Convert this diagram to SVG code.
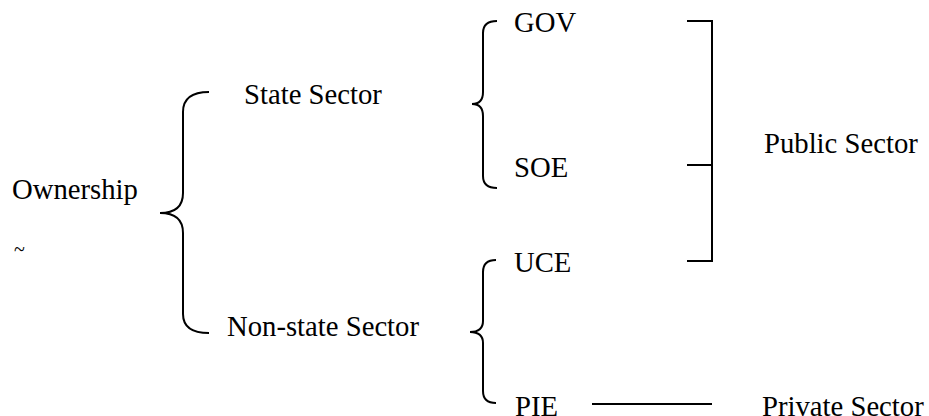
<svg xmlns="http://www.w3.org/2000/svg" width="929" height="416" viewBox="0 0 929 416">
<style>
  text { font-family: "Liberation Serif", "Times New Roman", serif; font-size: 28.7px; fill: #000; }
  .ln { fill: none; stroke: #000; stroke-width: 2; }
  .tilde { font-size: 20px; }
</style>
<rect width="929" height="416" fill="#fff"/>
<g id="connectors">
  <path class="ln" d="M209,92 C192,92 183,98 183,112 L183,193 C183,207 175,213 160,213 C175,213 183,219 183,233 L183,314 C183,327 192,333 209,333"/>
  <path class="ln" d="M497,21 C488,21 483,25 483,33 L483,92 C483,100 479,104 472,104 C479,104 483,108 483,116 L483,176 C483,184 488,188 497,188"/>
  <path class="ln" d="M496,260 C488,260 483,264 483,272 L483,321 C483,329 478,332 470,332 C478,332 483,335 483,343 L483,391 C483,399 488,403 496,403"/>
  <path class="ln" d="M687,21 L712,21 L712,261 L687,261"/>
  <path class="ln" d="M687,165 L712,165"/>
  <path class="ln" d="M592,404 L712,404"/>
</g>
<g id="ownership"><text x="12" y="199">Ownership</text></g>
<g id="tilde"><text class="tilde" x="14" y="256">~</text></g>
<g id="state-sector"><text x="244" y="104">State Sector</text></g>
<g id="non-state-sector"><text x="227" y="336">Non-state Sector</text></g>
<g id="gov"><text x="514" y="32">GOV</text></g>
<g id="soe"><text x="514" y="177">SOE</text></g>
<g id="uce"><text x="514" y="272">UCE</text></g>
<g id="pie"><text x="515" y="416">PIE</text></g>
<g id="public-sector"><text x="764" y="153">Public Sector</text></g>
<g id="private-sector"><text x="762" y="416">Private Sector</text></g>
</svg>
